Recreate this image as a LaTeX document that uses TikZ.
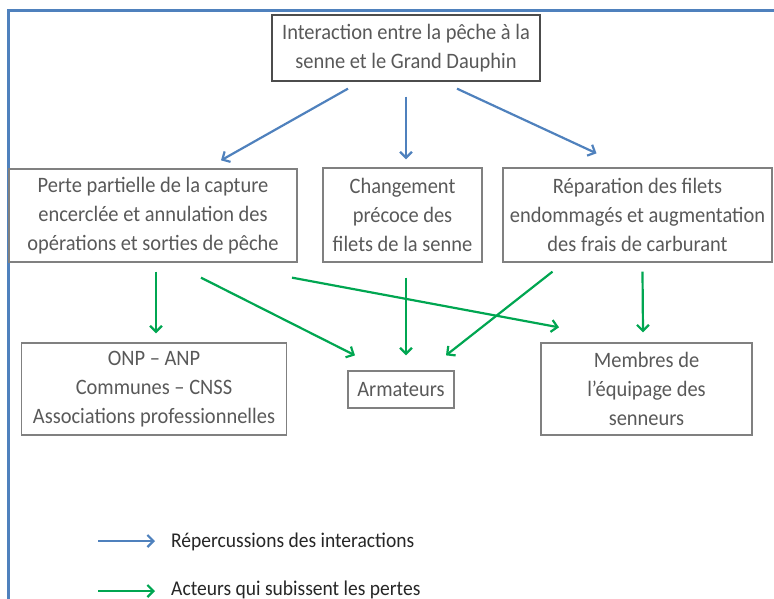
\documentclass[tikz,border=0pt]{standalone}
\usepackage{fontspec}
\setmainfont{Carlito}[FakeStretch=0.93]
\usepackage{xcolor}
\usepackage{tikz}
\usetikzlibrary{arrows.meta, positioning, calc}
\definecolor{interblue}{RGB}{79, 129, 189}
\definecolor{pertegreen}{RGB}{0, 166, 81}
\definecolor{boxtext}{RGB}{89, 89, 89}
\definecolor{boxline}{RGB}{128, 128, 128}
\definecolor{legendtext}{RGB}{38, 38, 38}

\begin{document}
\begin{tikzpicture}[x=1pt, y=-1pt,
    box/.style={draw=boxline, line width=1.3pt, text=boxtext, align=center,
                inner sep=0pt, font=\fontsize{22}{29}\selectfont},
    bluearrow/.style={interblue, line width=2.2pt,
                      -{Straight Barb[length=6pt, width=12pt]}},
    greenarrow/.style={pertegreen, line width=2.2pt,
                       -{Straight Barb[length=6pt, width=12pt]}}]
    \useasboundingbox (0,0) rectangle (774,599);

    % Frame (top and left only)
    \draw[interblue, line width=3pt] (774,11) -- (8,11) -- (8,599);

    % Interaction (top)
    \node[box, draw=black!70, minimum width=268pt, minimum height=66pt]
        (inter) at (406,48) {Interaction entre la pêche à la\\senne et le Grand Dauphin};

    % Repercussions
    \node[box, minimum width=288pt, minimum height=93pt] (perte) at (153,215.5)
        {Perte partielle de la capture\\encerclée et annulation des\\opérations et sorties de pêche};
    \node[box, minimum width=159pt, minimum height=94pt] (chgt) at (402.5,215)
        {Changement\\précoce des\\filets de la senne};
    \node[box, minimum width=269pt, minimum height=94pt] (repar) at (637.5,215)
        {Réparation des filets\\endommagés et augmentation\\des frais de carburant};

    % Acteurs
    \node[box, minimum width=265pt, minimum height=92pt] (onp) at (154,389)
        {ONP -- ANP\\Communes -- CNSS\\Associations professionnelles};
    \node[box, minimum width=106pt, minimum height=37pt] (armat) at (401,389.5)
        {Armateurs};
    \node[box, minimum width=211pt, minimum height=92pt] (membres) at (646.5,389)
        {Membres de\\l’équipage des\\senneurs};

    % Blue arrows
    \draw[bluearrow] ([xshift=-58pt, yshift=-7pt]inter.south) -- ([xshift=68pt, yshift=8pt]perte.north);
    \draw[bluearrow] ([yshift=-15pt]inter.south) -- ([xshift=3.5pt, yshift=8pt]chgt.north);
    \draw[bluearrow] ([xshift=51pt, yshift=-7pt]inter.south) -- ([xshift=-41pt, yshift=14pt]repar.north);

    % Green arrows
    \draw[greenarrow] ([xshift=3pt, yshift=-9pt]perte.south) -- ([xshift=2pt, yshift=9pt]onp.north);
    \draw[greenarrow] ([xshift=48pt, yshift=-15pt]perte.south) -- ([xshift=-46pt, yshift=15pt]armat.north);
    \draw[greenarrow] ([xshift=139pt, yshift=-15pt]perte.south) -- ([xshift=-87.5pt, yshift=15pt]membres.north);
    \draw[greenarrow] ([xshift=3.5pt, yshift=-15pt]chgt.south) -- ([xshift=5pt, yshift=15pt]armat.north);
    \draw[greenarrow] ([xshift=-85pt, yshift=-9pt]repar.south) -- ([xshift=45pt, yshift=15pt]armat.north);
    \draw[greenarrow] ([xshift=5pt, yshift=-9pt]repar.south) -- ([xshift=-3.5pt, yshift=10pt]membres.north);

    % Legend
    \coordinate (lb0) at (98,541);
    \coordinate (lb1) at (155,541);
    \coordinate (lg0) at (98,591);
    \coordinate (lg1) at (155,591);
    \draw[bluearrow] (lb0) -- (lb1);
    \draw[greenarrow] (lg0) -- (lg1);
    \node[anchor=base west, text=legendtext, inner sep=0pt, font=\fontsize{21}{24}\selectfont]
        (legblue) at (171,547) {Répercussions des interactions};
    \node[anchor=base west, text=legendtext, inner sep=0pt, font=\fontsize{21}{24}\selectfont]
        (leggreen) at (171,595) {Acteurs qui subissent les pertes};
\end{tikzpicture}
\end{document}
